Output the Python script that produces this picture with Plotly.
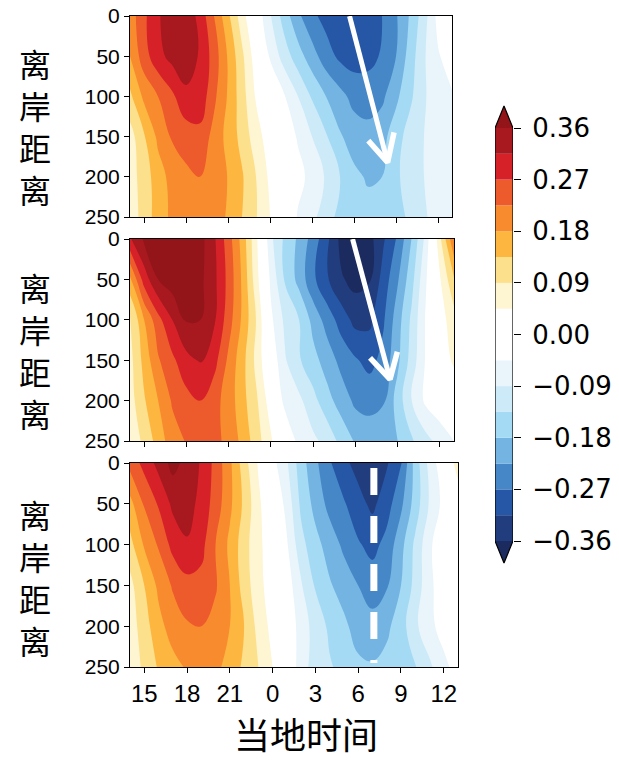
import plotly.graph_objects as go

# ---------------- data ----------------
hours = list(range(14, 38))            # local time (14h .. 13h next day)
dist = [0, 50, 100, 150, 200, 250]     # offshore distance
x_tick_vals = [15, 18, 21, 24, 27, 30, 33, 36]
x_tick_text = ["15", "18", "21", "0", "3", "6", "9", "12"]
y_tick_vals = [0, 50, 100, 150, 200, 250]

p1_d0 = [0.20, 0.26, 0.31, 0.34, 0.345, 0.30, 0.225, 0.145, 0.065, -0.01, -0.085, -0.155,
         -0.215, -0.26, -0.285, -0.30, -0.305, -0.295, -0.27, -0.23, -0.175, -0.11, -0.03, 0.05]
p1_d50 = [0.18, 0.25, 0.30, 0.33, 0.34, 0.31, 0.25, 0.175, 0.10, 0.02, -0.05, -0.11,
          -0.16, -0.205, -0.25, -0.28, -0.29, -0.285, -0.265, -0.225, -0.16, -0.095, -0.05, -0.02]
p1_d100 = [0.125, 0.19, 0.225, 0.26, 0.305, 0.30, 0.235, 0.175, 0.11, 0.04, 0.0, -0.04,
           -0.09, -0.14, -0.18, -0.21, -0.24, -0.245, -0.235, -0.19, -0.145, -0.095, -0.065, -0.05]
p1_d150 = [0.07, 0.13, 0.19, 0.23, 0.245, 0.255, 0.21, 0.165, 0.12, 0.065, 0.02, -0.015,
           -0.05, -0.09, -0.13, -0.175, -0.20, -0.21, -0.195, -0.155, -0.115, -0.09, -0.07, -0.055]
p1_d200 = [0.07, 0.11, 0.16, 0.195, 0.215, 0.225, 0.21, 0.178, 0.14, 0.09, 0.035, 0.0,
           -0.03, -0.06, -0.095, -0.135, -0.17, -0.185, -0.18, -0.145, -0.11, -0.09, -0.075, -0.06]
p1_d250 = [0.06, 0.11, 0.155, 0.19, 0.205, 0.21, 0.20, 0.175, 0.135, 0.093, 0.045, 0.005,
           -0.05, -0.075, -0.12, -0.145, -0.16, -0.165, -0.16, -0.145, -0.13, -0.095, -0.075, -0.06]

p2_d0 = [0.31, 0.365, 0.39, 0.40, 0.40, 0.375, 0.32, 0.245, 0.16, 0.05, -0.08, -0.145,
         -0.19, -0.245, -0.305, -0.375, -0.39, -0.375, -0.32, -0.263, -0.178, -0.075, 0.08, 0.22]
p2_d50 = [0.17, 0.29, 0.36, 0.385, 0.39, 0.37, 0.325, 0.255, 0.17, 0.06, -0.055, -0.14,
          -0.195, -0.26, -0.31, -0.355, -0.375, -0.365, -0.295, -0.23, -0.15, -0.05, 0.04, 0.13]
p2_d100 = [0.08, 0.18, 0.255, 0.315, 0.365, 0.36, 0.32, 0.245, 0.17, 0.085, -0.035, -0.10,
           -0.135, -0.195, -0.245, -0.29, -0.33, -0.325, -0.275, -0.20, -0.125, -0.04, 0.025, 0.07]
p2_d150 = [0.075, 0.15, 0.22, 0.26, 0.30, 0.32, 0.285, 0.215, 0.15, 0.075, -0.01, -0.085,
           -0.13, -0.165, -0.20, -0.24, -0.265, -0.285, -0.255, -0.19, -0.115, -0.04, 0.01, 0.055]
p2_d200 = [0.07, 0.13, 0.18, 0.23, 0.255, 0.27, 0.24, 0.205, 0.15, 0.095, 0.02, -0.06,
           -0.08, -0.12, -0.165, -0.20, -0.235, -0.24, -0.23, -0.16, -0.09, -0.035, -0.01, 0.0]
p2_d250 = [0.06, 0.10, 0.155, 0.205, 0.228, 0.24, 0.235, 0.215, 0.165, 0.11, 0.05, 0.0,
           -0.06, -0.08, -0.105, -0.15, -0.185, -0.20, -0.195, -0.18, -0.14, -0.105, -0.075, -0.045]

p3_d0 = [0.24, 0.285, 0.33, 0.375, 0.345, 0.31, 0.255, 0.19, 0.11, 0.04, -0.03, -0.085,
         -0.16, -0.215, -0.265, -0.305, -0.33, -0.34, -0.32, -0.275, -0.16, -0.075, -0.01, 0.07]
p3_d50 = [0.165, 0.23, 0.275, 0.325, 0.335, 0.30, 0.25, 0.19, 0.125, 0.055, 0.0, -0.06,
          -0.145, -0.195, -0.24, -0.265, -0.30, -0.325, -0.29, -0.235, -0.16, -0.085, -0.03, 0.01]
p3_d100 = [0.12, 0.185, 0.23, 0.285, 0.31, 0.285, 0.225, 0.17, 0.11, 0.055, 0.02, -0.04,
           -0.12, -0.165, -0.20, -0.235, -0.265, -0.285, -0.255, -0.195, -0.125, -0.055, -0.005, 0.01]
p3_d150 = [0.075, 0.135, 0.19, 0.23, 0.255, 0.255, 0.23, 0.18, 0.115, 0.06, 0.02, -0.02,
           -0.085, -0.14, -0.175, -0.20, -0.225, -0.245, -0.23, -0.18, -0.12, -0.055, -0.02, 0.0]
p3_d200 = [0.065, 0.115, 0.165, 0.20, 0.22, 0.225, 0.21, 0.18, 0.135, 0.075, 0.03, 0.0,
           -0.07, -0.105, -0.145, -0.17, -0.20, -0.21, -0.19, -0.155, -0.10, -0.055, -0.03, -0.02]
p3_d250 = [0.06, 0.10, 0.14, 0.165, 0.185, 0.195, 0.19, 0.165, 0.125, 0.09, 0.045, 0.01,
           -0.075, -0.105, -0.13, -0.15, -0.17, -0.175, -0.165, -0.155, -0.138, -0.10, -0.055, -0.03]

panel1 = [p1_d0, p1_d50, p1_d100, p1_d150, p1_d200, p1_d250]
panel2 = [p2_d0, p2_d50, p2_d100, p2_d150, p2_d200, p2_d250]
panel3 = [p3_d0, p3_d50, p3_d100, p3_d150, p3_d200, p3_d250]

# propagation markers (time, distance)
arrow1_line = ([29.68, 32.4], [0, 182])
arrow1_head = ([31.02, 32.4, 32.86], [155, 182, 144.7])
arrow2_line = ([29.8, 32.46], [0, 173.6])
arrow2_head = ([31.04, 32.46, 32.98], [147, 173.6, 139.6])
dash3_line = ([31.1, 31.1], [6, 245])

lev_start, lev_end, lev_step = -0.36, 0.36, 0.045
band_colors = ["#1c2b5f", "#213d7e", "#2557a6", "#4687c7", "#73b4e2", "#a4daf4",
               "#cceaf8", "#e9f5fb", "#ffffff", "#ffffff", "#fef5d3", "#fde08b",
               "#fdb640", "#f98b2f", "#ed5a2b", "#d62129", "#a7181f", "#931519"]
cbar_tick_vals = [0.36, 0.27, 0.18, 0.09, 0.0, -0.09, -0.18, -0.27, -0.36]
cbar_tick_text = ["0.36", "0.27", "0.18", "0.09", "0.00", "\u22120.09", "\u22120.18",
                  "\u22120.27", "\u22120.36"]
ylabel_chars = ["离", "岸", "距", "离"]
xlabel = "当地时间"

# ---------------- figure ----------------
W, H = 619, 760
def xdom(a, b):
    return [a / W, b / W]
def ydom(top, bottom):
    return [1 - bottom / H, 1 - top / H]

colorscale = [[j / 17, c] for j, c in enumerate(band_colors)]
fig = go.Figure()

panels = [panel1, panel2, panel3]
for i, z in enumerate(panels):
    sfx = "" if i == 0 else str(i + 1)
    fig.add_trace(go.Contour(
        x=hours, y=dist, z=z, xaxis="x" + sfx, yaxis="y" + sfx,
        colorscale=colorscale, autocontour=False,
        contours=dict(start=lev_start, end=lev_end, size=lev_step, coloring="fill"),
        line=dict(width=0, smoothing=1.2), showscale=False, hoverinfo="skip"))

def add_line(xy, ax, width, dash=None):
    fig.add_trace(go.Scatter(x=xy[0], y=xy[1], xaxis="x" + ax, yaxis="y" + ax, mode="lines",
                             line=dict(color="white", width=width, dash=dash),
                             showlegend=False, hoverinfo="skip"))

add_line(arrow1_line, "", 5)
add_line(arrow1_head, "", 5.5)
add_line(arrow2_line, "2", 5)
add_line(arrow2_head, "2", 5.5)
add_line(dash3_line, "3", 7, dash="27px,21px")

# colorbar built on its own axis
for k in range(16):
    lo = lev_start + k * lev_step
    fig.add_trace(go.Bar(x=[0.5], y=[lev_step], base=[lo], width=1,
                         marker=dict(color=band_colors[k + 1], line=dict(width=0)),
                         xaxis="x4", yaxis="y4", showlegend=False, hoverinfo="skip"))
tri = 0.0384
fig.add_trace(go.Scatter(x=[0, 0.5, 1, 0], y=[lev_end, lev_end + tri, lev_end, lev_end],
                         fill="toself", fillcolor=band_colors[-1], mode="lines",
                         line=dict(width=0), xaxis="x4", yaxis="y4", showlegend=False))
fig.add_trace(go.Scatter(x=[0, 0.5, 1, 0], y=[lev_start, lev_start - tri, lev_start, lev_start],
                         fill="toself", fillcolor=band_colors[0], mode="lines",
                         line=dict(width=0), xaxis="x4", yaxis="y4", showlegend=False))
fig.add_trace(go.Scatter(x=[0, 0, 0.5, 1, 1, 0.5, 0],
                         y=[lev_start, lev_end, lev_end + tri, lev_end, lev_start,
                            lev_start - tri, lev_start],
                         mode="lines", line=dict(color="black", width=1.2),
                         xaxis="x4", yaxis="y4", showlegend=False))

xtick_font = dict(family="Liberation Sans, Arial, sans-serif", size=24, color="black")
ytick_font = dict(family="Liberation Sans, Arial, sans-serif", size=21, color="black")
panel_px = [((130, 452), (16, 217)), ((130, 454), (239, 441)), ((130, 458), (463, 667))]
layout = dict(width=W, height=H, margin=dict(l=0, r=0, t=0, b=0, autoexpand=False),
              paper_bgcolor="white", plot_bgcolor="white", showlegend=False,
              barmode="overlay")
for i, ((xa, xb), (ya, yb)) in enumerate(panel_px):
    sfx = "" if i == 0 else str(i + 1)
    layout["xaxis" + sfx] = dict(domain=xdom(xa, xb), range=[14, 37], anchor="y" + sfx,
                                 tickvals=x_tick_vals, ticktext=x_tick_text,
                                 showticklabels=(i == 2), ticks="outside", ticklen=5,
                                 tickcolor="black", showline=True, linecolor="black",
                                 linewidth=1, mirror=True, showgrid=False, zeroline=False,
                                 tickfont=xtick_font, automargin=False)
    layout["yaxis" + sfx] = dict(domain=ydom(ya, yb), range=[250, 0], anchor="x" + sfx,
                                 tickvals=y_tick_vals, ticks="outside", ticklen=5,
                                 tickcolor="black", showline=True, linecolor="black",
                                 linewidth=1, mirror=True, showgrid=False, zeroline=False,
                                 tickfont=ytick_font, automargin=False)
cb_half = lev_end + 26 / 573.6
layout["xaxis4"] = dict(domain=xdom(495, 513), range=[0, 1], anchor="y4", visible=False,
                        fixedrange=True, automargin=False)
layout["yaxis4"] = dict(domain=ydom(102, 567), range=[-cb_half, cb_half], anchor="x4",
                        side="right", tickvals=cbar_tick_vals, ticktext=cbar_tick_text,
                        ticks="outside", ticklen=7, tickcolor="black", showline=False,
                        showgrid=False, zeroline=False, automargin=False,
                        ticklabelstandoff=6,
                        tickfont=dict(family="DejaVu Sans", size=26, color="black"))
fig.update_layout(**layout)

cjk = "Noto Sans CJK SC"
for cy in [126, 350, 577]:
    for j, ch in enumerate(ylabel_chars):
        yc = cy + (j - 1.5) * 42
        fig.add_annotation(text=ch, xref="paper", yref="paper", x=35 / W, y=1 - yc / H,
                           showarrow=False, xanchor="center", yanchor="middle", borderpad=0,
                           font=dict(family=cjk, size=32, color="black"))
fig.add_annotation(text=xlabel, xref="paper", yref="paper", x=306 / W, y=0,
                   showarrow=False, xanchor="center", yanchor="bottom", borderpad=0,
                   font=dict(family=cjk, size=36, color="black"))

fig.write_html("out.html")
